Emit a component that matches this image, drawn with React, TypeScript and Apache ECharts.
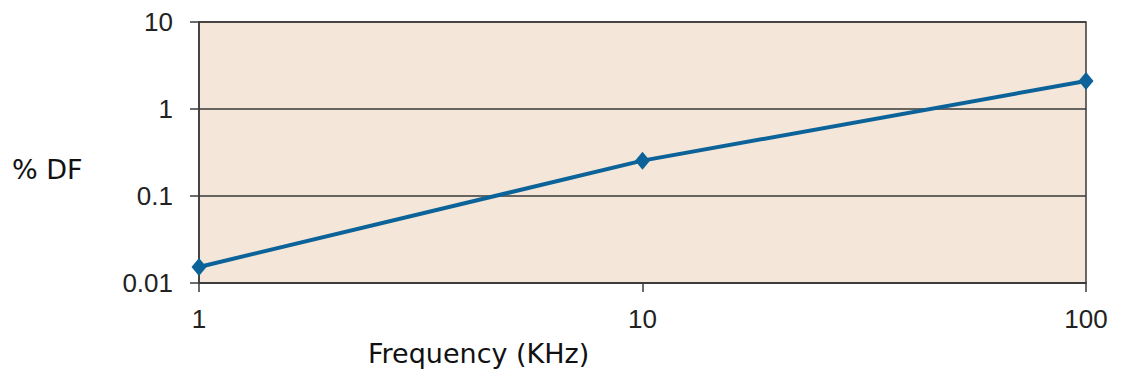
import React, { useEffect, useRef } from "react";
import * as echarts from "echarts";

const frequencies = [1, 10, 100];
const dfValues = [0.0153, 0.255, 2.1];
const yTicks = [0.01, 0.1, 1, 10];
const xTicks = [1, 10, 100];

export default function App() {
  const ref = useRef<HTMLDivElement>(null);
  useEffect(() => {
    document.body.style.margin = "0";
    const chart = echarts.init(ref.current!, null, { renderer: "svg" });
    const axisColor = "#3a3a3a";
    chart.setOption({
      animation: false,
      grid: {
        left: 199,
        right: 35,
        top: 22,
        bottom: 92,
        show: true,
        backgroundColor: "#f4e6d8",
        borderColor: axisColor,
        borderWidth: 1.5,
      },
      xAxis: {
        type: "log",
        logBase: 10,
        min: xTicks[0],
        max: xTicks[xTicks.length - 1],
        axisLine: { show: true, lineStyle: { color: axisColor, width: 1.5 } },
        axisTick: { show: true, length: 9, lineStyle: { color: axisColor, width: 1.5 } },
        splitLine: { show: false },
        axisLabel: {
          color: "#222",
          fontSize: 26,
          fontFamily: "Liberation Sans, Arial, sans-serif",
          margin: 23,
          formatter: (v: number) => String(v),
        },
      },
      yAxis: {
        type: "log",
        logBase: 10,
        min: yTicks[0],
        max: yTicks[yTicks.length - 1],
        axisLine: { show: true, lineStyle: { color: axisColor, width: 1.5 } },
        axisTick: { show: true, length: 9, lineStyle: { color: axisColor, width: 1.5 } },
        splitLine: { show: true, lineStyle: { color: axisColor, width: 1.5 } },
        axisLabel: {
          color: "#222",
          fontSize: 26,
          fontFamily: "Liberation Sans, Arial, sans-serif",
          margin: 26,
          formatter: (v: number) => (v >= 1 ? String(Math.round(v)) : String(Number(v.toPrecision(1)))),
        },
      },
      series: [
        {
          type: "line",
          data: frequencies.map((f, i) => [f, dfValues[i]]),
          lineStyle: { color: "#0b6399", width: 4 },
          itemStyle: { color: "#0b6399" },
          symbol: "diamond",
          symbolSize: [15, 18],
          showSymbol: true,
        },
      ],
      graphic: [
        {
          type: "text",
          left: 12,
          top: 156,
          style: {
            text: "% DF",
            fontSize: 27,
            fontFamily: "DejaVu Sans, Verdana, sans-serif",
            fill: "#111",
          },
        },
        {
          type: "text",
          left: 368,
          top: 340,
          style: {
            text: "Frequency (KHz)",
            fontSize: 27,
            fontFamily: "DejaVu Sans, Verdana, sans-serif",
            fill: "#111",
          },
        },
      ],
    });
    return () => chart.dispose();
  }, []);
  return <div ref={ref} style={{ width: 1121, height: 375 }} />;
}
